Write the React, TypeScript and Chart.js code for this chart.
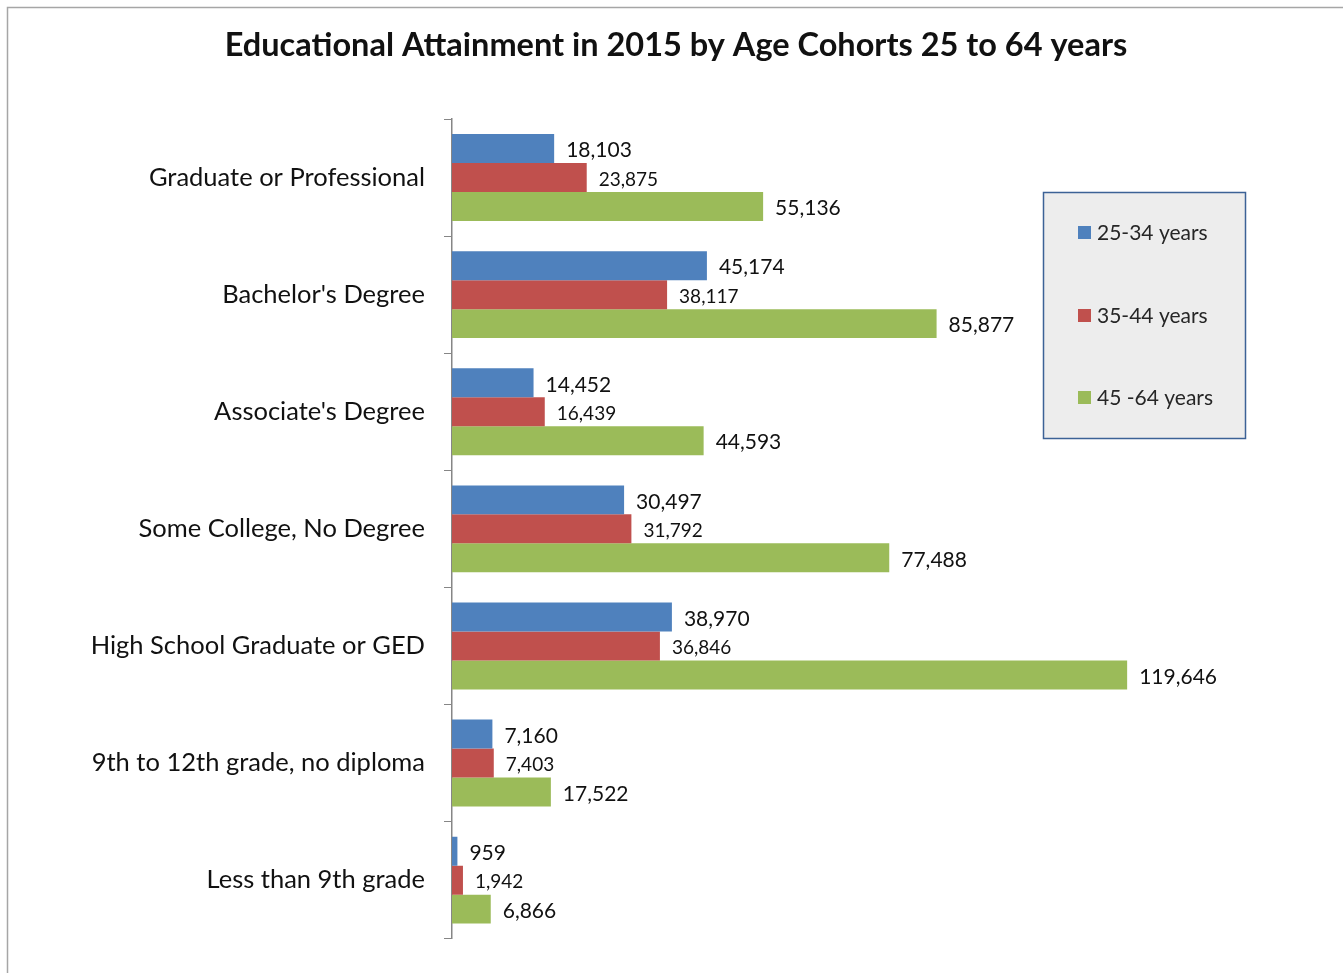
import React, { useEffect, useRef } from "react";
import { Chart, registerables } from "chart.js";

Chart.register(...registerables);

const categories = [
  "Graduate or Professional",
  "Bachelor's Degree",
  "Associate's Degree",
  "Some College, No Degree",
  "High School Graduate or GED",
  "9th to 12th grade, no diploma",
  "Less than 9th grade",
];
const seriesNames = ["25-34 years", "35-44 years", "45 -64 years"];
const age25to34 = [18103, 45174, 14452, 30497, 38970, 7160, 959];
const age35to44 = [23875, 38117, 16439, 31792, 36846, 7403, 1942];
const age45to64 = [55136, 85877, 44593, 77488, 119646, 17522, 6866];
const colors = ["#4f81bd", "#c0504d", "#9bbb59"];
const titleText = "Educational Attainment in 2015 by Age Cohorts 25 to 64 years";
const FONT = "Lato, 'Open Sans', sans-serif";

const fmt = (v: number) => v.toLocaleString("en-US");

const decorPlugin = {
  id: "decor",
  beforeDraw(chart: any) {
    const ctx = chart.ctx;
    ctx.save();
    ctx.fillStyle = "#ffffff";
    ctx.fillRect(0, 0, chart.width, chart.height);
    ctx.strokeStyle = "#a6a6a6";
    ctx.lineWidth = 1.5;
    ctx.beginPath();
    ctx.moveTo(7.5, chart.height);
    ctx.lineTo(7.5, 7.5);
    ctx.lineTo(chart.width, 7.5);
    ctx.stroke();
    // title
    ctx.fillStyle = "#111111";
    ctx.font = `bold 32.5px ${FONT}`;
    ctx.textAlign = "center";
    ctx.textBaseline = "middle";
    ctx.fillText(titleText, 676, 46);
    ctx.restore();
  },
  afterDatasetsDraw(chart: any) {
    const ctx = chart.ctx;
    ctx.save();
    chart.data.datasets.forEach((ds: any, di: number) => {
      const meta = chart.getDatasetMeta(di);
      meta.data.forEach((bar: any, i: number) => {
        const v = ds.data[i];
        ctx.fillStyle = "#111111";
        ctx.font = `${di === 1 ? 19 : 21}px ${FONT}`;
        ctx.textAlign = "left";
        ctx.textBaseline = "middle";
        ctx.fillText(fmt(v), bar.x + 12, bar.y + 2);
      });
    });
    // legend
    const lx = 1043, ly = 192, lw = 202, lh = 246;
    ctx.fillStyle = "#ededed";
    ctx.fillRect(lx, ly, lw, lh);
    ctx.strokeStyle = "#3c6296";
    ctx.lineWidth = 1.5;
    ctx.strokeRect(lx + 0.5, ly + 0.5, lw, lh);
    const ys = [232, 315, 397];
    chart.data.datasets.forEach((ds: any, di: number) => {
      ctx.fillStyle = ds.backgroundColor;
      ctx.fillRect(1078, ys[di] - 6, 13, 13);
      ctx.fillStyle = "#262626";
      ctx.font = `21px ${FONT}`;
      ctx.textAlign = "left";
      ctx.textBaseline = "middle";
      ctx.fillText(ds.label, 1097, ys[di] + 1);
    });
    ctx.restore();
  },
};

export default function App() {
  const ref = useRef<HTMLCanvasElement>(null);
  useEffect(() => {
    const chart = new Chart(ref.current!, {
      type: "bar",
      data: {
        labels: categories,
        datasets: [age25to34, age35to44, age45to64].map((d, i) => ({
          label: seriesNames[i],
          data: d,
          backgroundColor: colors[i],
          borderWidth: 0,
          categoryPercentage: 0.742,
          barPercentage: 1,
        })),
      },
      options: {
        indexAxis: "y",
        animation: false,
        responsive: false,
        maintainAspectRatio: false,
        layout: { padding: { top: 119, bottom: 33, right: 101, left: 0 } },
        plugins: { legend: { display: false }, title: { display: false }, tooltip: { enabled: false } },
        scales: {
          x: { display: false, min: 0, max: 140000 },
          y: {
            afterFit: (s: any) => { s.width = 452; },
            grid: { drawOnChartArea: false, drawTicks: true, tickLength: 8, color: "#868686", offset: true },
            border: { display: true, color: "#868686", width: 1.5 },
            ticks: { padding: 19, color: "#111111", font: { family: FONT, size: 25.5 } },
          },
        },
      },
      plugins: [decorPlugin],
    });
    return () => chart.destroy();
  }, []);
  return (
    <div style={{ position: "absolute", left: 0, top: 0, width: 1343, height: 973 }}>
      <canvas ref={ref} width={1343} height={973} style={{ display: "block" }} />
    </div>
  );
}
